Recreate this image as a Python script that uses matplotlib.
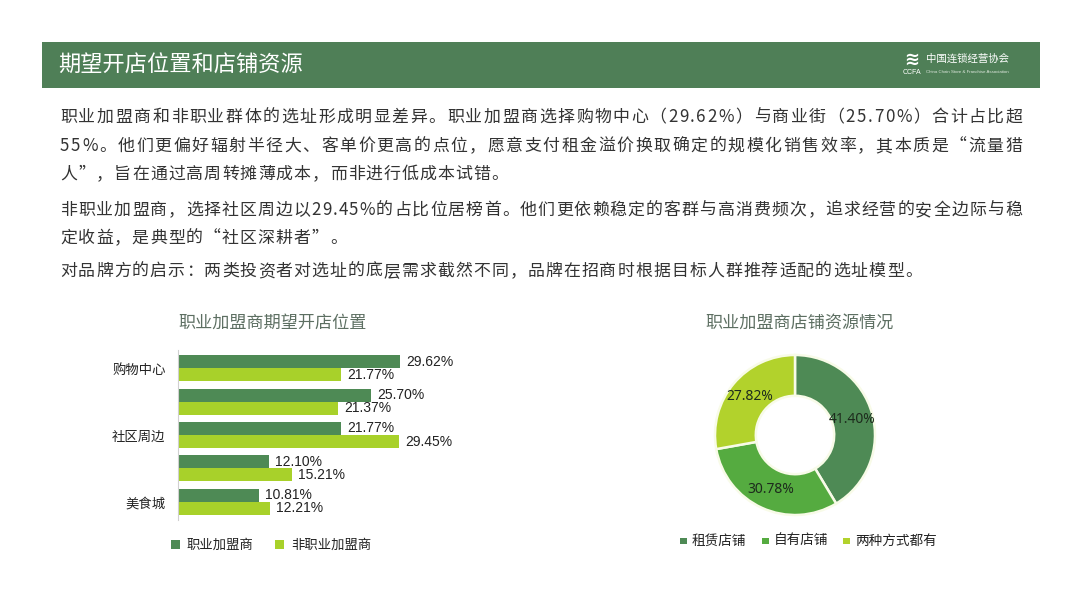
import matplotlib
matplotlib.use("Agg")
import matplotlib.pyplot as plt
from matplotlib.patches import Rectangle

plt.rcParams['font.family'] = ['Noto Sans CJK SC', 'DejaVu Sans']

# ---------------- data ----------------
categories = ['购物中心', '商业街', '社区周边', '其他', '美食城']
tick_labels = ['购物中心', '', '社区周边', '', '美食城']
pro_values = [29.62, 25.70, 21.77, 12.10, 10.81]
nonpro_values = [21.77, 21.37, 29.45, 15.21, 12.21]
bar_series = ['职业加盟商', '非职业加盟商']

donut_labels = ['租赁店铺', '自有店铺', '两种方式都有']
donut_values = [41.40, 30.78, 27.82]

header_title = '期望开店位置和店铺资源'
bar_title = '职业加盟商期望开店位置'
donut_title = '职业加盟商店铺资源情况'
body_lines = [
    '职业加盟商和非职业群体的选址形成明显差异。职业加盟商选择购物中心（29.62%）与商业街（25.70%）合计占比超',
    '55%。他们更偏好辐射半径大、客单价更高的点位，愿意支付租金溢价换取确定的规模化销售效率，其本质是“流量猎',
    '人”，旨在通过高周转摊薄成本，而非进行低成本试错。',
    '非职业加盟商，选择社区周边以29.45%的占比位居榜首。他们更依赖稳定的客群与高消费频次，追求经营的安全边际与稳',
    '定收益，是典型的“社区深耕者”。',
    '对品牌方的启示：两类投资者对选址的底层需求截然不同，品牌在招商时根据目标人群推荐适配的选址模型。',
]
justified = [True, True, False, True, False, False]

# ---------------- style ----------------
W, H = 1080, 608
DARK = '#4e8a55'
LIGHT = '#a8d12a'
DONUT_COLORS = ['#4e8a55', '#55ab40', '#b2d22c']
HEADER = '#4f7f57'
TITLE_C = '#5d6f62'
TEXT_C = '#333333'


def fx(x):
    return x / W


def fy(y):
    return 1 - y / H


fig = plt.figure(figsize=(W / 100, H / 100), dpi=100)
fig.patch.set_facecolor('white')
renderer = fig.canvas.get_renderer()

# header bar
fig.patches.append(Rectangle((fx(42), fy(88)), fx(1040) - fx(42), fy(42) - fy(88),
                             transform=fig.transFigure, facecolor=HEADER, edgecolor='none'))
fig.text(fx(58), fy(65), header_title, color='white', fontsize=16, va='center', ha='left')
# logo
fig.text(fx(912), fy(60), '≋', color='white', fontsize=13, va='center', ha='center',
         family=['DejaVu Sans'], fontweight='bold')
fig.text(fx(912), fy(72), 'CCFA', color='white', fontsize=5, va='center', ha='center',
         family=['Liberation Sans'])
fig.text(fx(926), fy(59), '中国连锁经营协会', color='white', fontsize=7.5, va='center', ha='left')
fig.text(fx(926), fy(72), 'China Chain Store & Franchise Association', color='#dfe8df',
         fontsize=3.2, va='center', ha='left', family=['Liberation Sans'])

# body text with letter spacing
BODY_FS = 12.2
X0, X1 = 60, 1022


def char_widths(s, fs):
    ws = []
    for ch in s:
        t = fig.text(0, 0, ch, fontsize=fs)
        ws.append(t.get_window_extent(renderer).width)
        t.remove()
    return ws


line_y = [117, 146, 174, 210, 238, 271]
for txt, y, just in zip(body_lines, line_y, justified):
    ws = char_widths(txt, BODY_FS)
    if just:
        spacing = (X1 - X0 - sum(ws)) / (len(txt) - 1)
    else:
        spacing = 1.1
    x = X0
    for ch, w in zip(txt, ws):
        fig.text(fx(x), fy(y), ch, color=TEXT_C, fontsize=BODY_FS, va='center', ha='left')
        x += w + spacing

# ---------------- bar chart ----------------
ax = fig.add_axes([fx(178), fy(520), fx(478) - fx(178), fy(350) - fy(520)])
n = len(categories)
pos = list(range(n))
bh = 0.39
ax.barh([p - bh / 2 for p in pos], pro_values, height=bh, color=DARK, label=bar_series[0])
ax.barh([p + bh / 2 for p in pos], nonpro_values, height=bh, color=LIGHT, label=bar_series[1])
for p, v in zip(pos, pro_values):
    ax.text(v + 0.8, p - bh / 2, f'{v:.2f}%', va='center', ha='left', fontsize=10,
            color='#222222', family=['Liberation Sans'])
for p, v in zip(pos, nonpro_values):
    ax.text(v + 0.8, p + bh / 2, f'{v:.2f}%', va='center', ha='left', fontsize=10,
            color='#222222', family=['Liberation Sans'])
ax.set_xlim(0, 40)
ax.set_ylim(4.55, -0.55)
ax.set_yticks(pos)
ax.set_yticklabels(tick_labels, fontsize=9.6, color='#222222')
ax.tick_params(axis='y', length=0, pad=9)
ax.set_xticks([])
for s in ['top', 'right', 'bottom']:
    ax.spines[s].set_visible(False)
ax.spines['left'].set_color('#d0d0d0')
ax.patch.set_alpha(0)
fig.text(fx(273), fy(323), bar_title, color=TITLE_C, fontsize=12.3, ha='center', va='center')
leg = ax.legend(loc='center', bbox_to_anchor=(fx(271), fy(545)), bbox_transform=fig.transFigure,
                ncol=2, frameon=False, fontsize=9.6, handlelength=0.7, handleheight=0.7,
                handletextpad=0.5, columnspacing=1.6)
for t in leg.get_texts():
    t.set_color('#222222')

# ---------------- donut ----------------
R = 90
dax = fig.add_axes([fx(795 - R), fy(435 + R), fx(2 * R), fy(0) - fy(2 * R)])
wedges, texts, autotexts = dax.pie(
    donut_values, colors=DONUT_COLORS, startangle=90, counterclock=False,
    radius=1.0, wedgeprops=dict(width=0.51, edgecolor='#f8fbe8', linewidth=1.8),
    autopct=lambda p: f'{p:.2f}%', pctdistance=0.745)
for t in autotexts:
    t.set_fontsize(10)
    t.set_color('#1d2b1d')
    t.set_family(['Noto Sans', 'DejaVu Sans'])
lim = R / 80
dax.set_xlim(-lim, lim)
dax.set_ylim(-lim, lim)
dax.set_aspect('equal')
dax.axis('off')
fig.text(fx(800), fy(323), donut_title, color=TITLE_C, fontsize=12.3, ha='center', va='center')

# donut legend (manual layout)
leg_sq_x = [680, 762, 843]
leg_y = 541
SQ = 6.5
for lab, col, sx in zip(donut_labels, DONUT_COLORS, leg_sq_x):
    fig.patches.append(Rectangle((fx(sx), fy(leg_y + SQ / 2)), fx(SQ), fy(0) - fy(SQ),
                                 transform=fig.transFigure, facecolor=col, edgecolor='none'))
    fig.text(fx(sx + 12), fy(leg_y), lab, fontsize=9.8, color='#222222', va='center', ha='left')

fig.savefig('out.png', dpi=100, facecolor='white')
